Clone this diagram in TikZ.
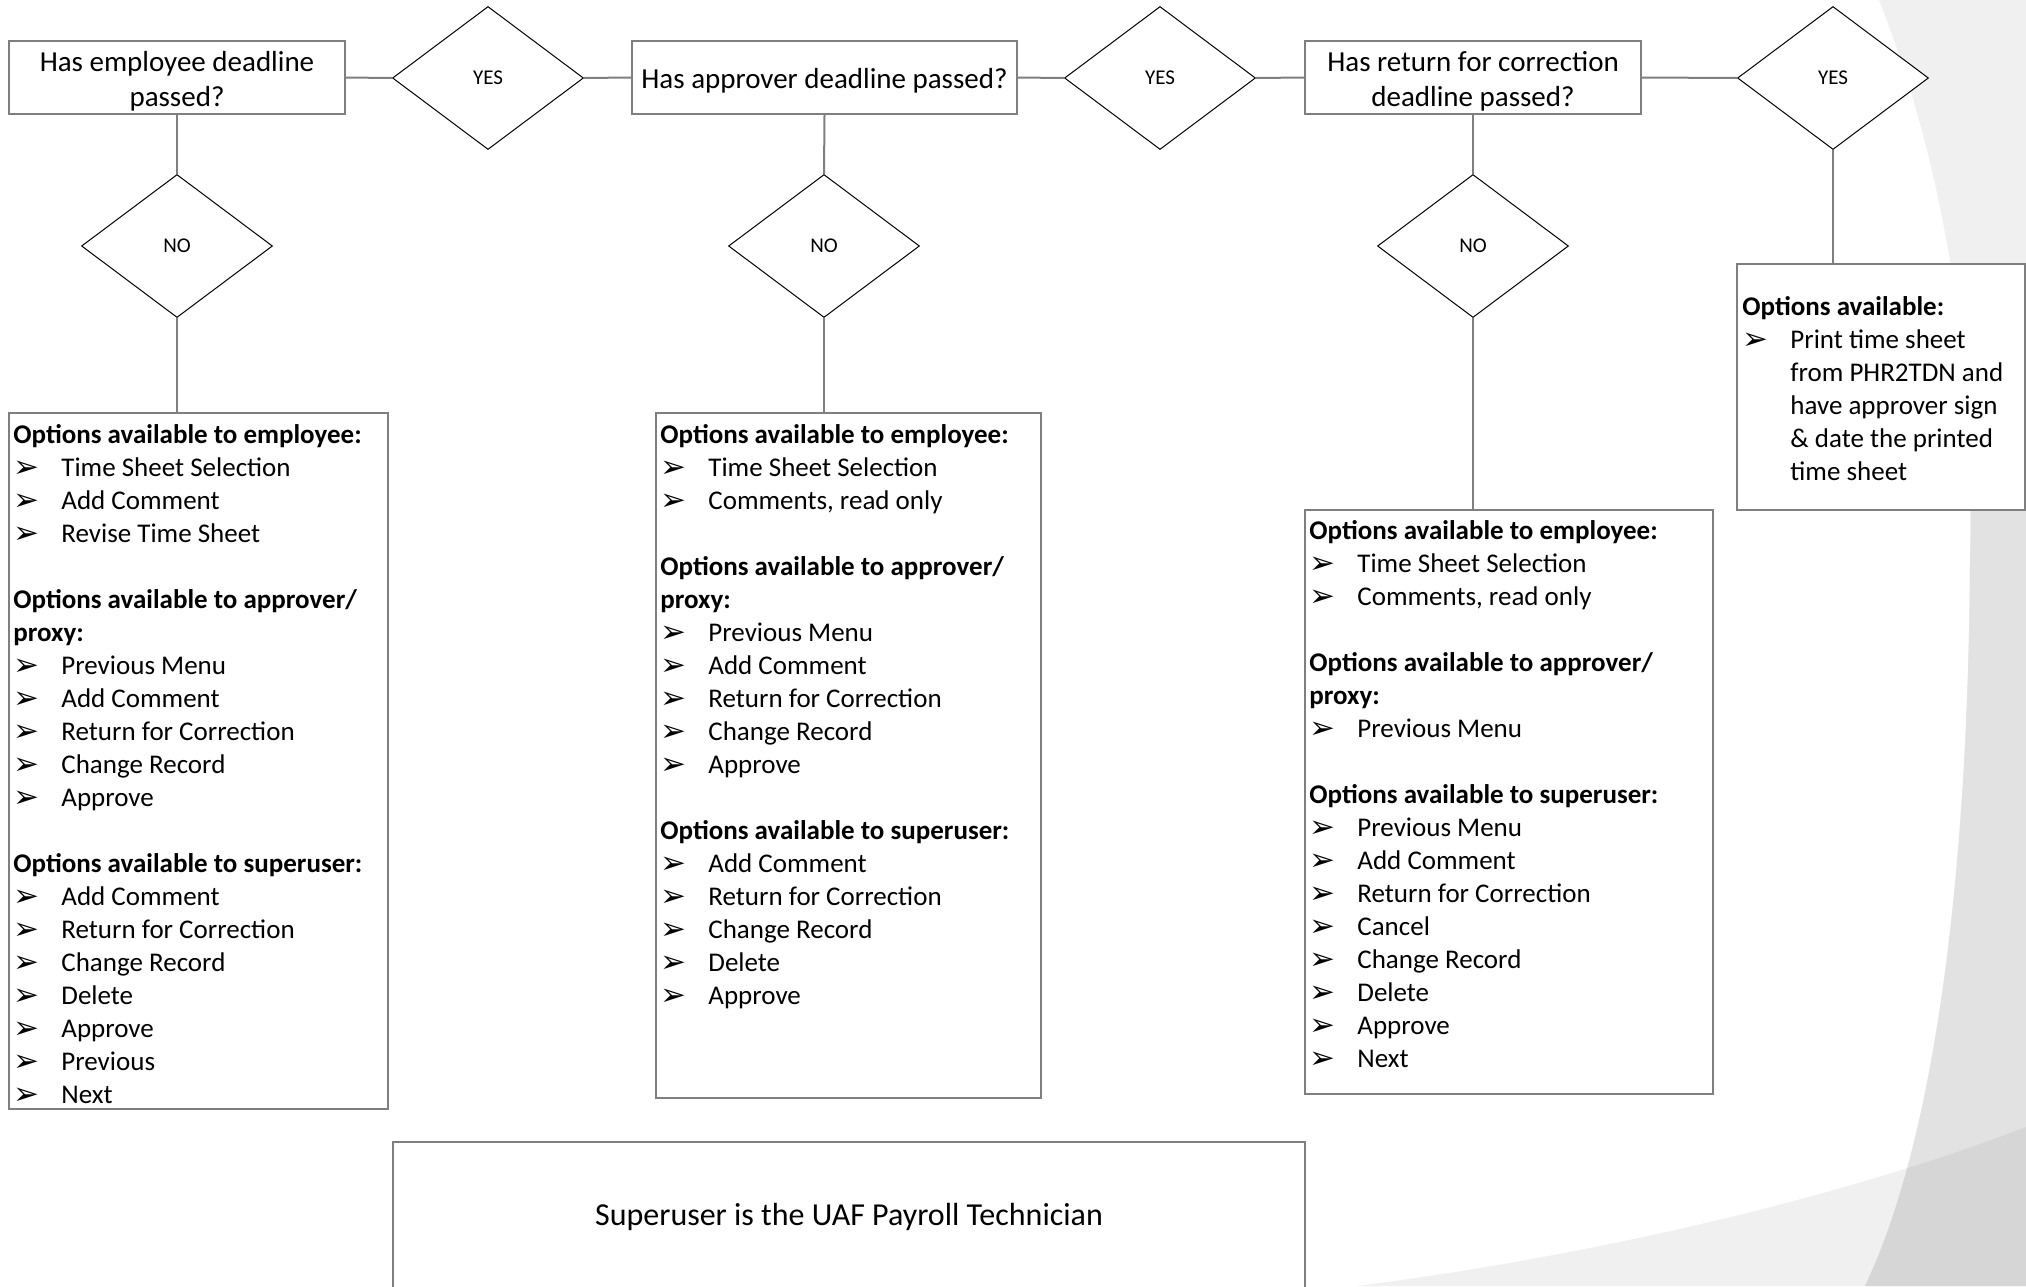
\documentclass[tikz,border=0pt]{standalone}
\usepackage{fontspec}
\setmainfont{Carlito}
\newfontfamily\dejavu{DejaVu Sans}
\usetikzlibrary{shapes.geometric,calc}

\definecolor{linegray}{HTML}{7F7F7F}
\definecolor{bglight}{HTML}{F0F0F0}
\definecolor{bgmid}{HTML}{E2E2E2}
\definecolor{bgdark}{HTML}{D6D6D6}

% arrowhead bullet followed by the item text
\newcommand{\arrowbullet}{\makebox[48pt][l]{\raisebox{-1pt}{\dejavu\fontsize{31}{31}\selectfont ➢}}}
\newcommand{\opt}[1]{\arrowbullet#1}
\newcommand{\firstline}{\rule{0pt}{24pt}}
% centred question text, nudged slightly below the box centre
\newcommand{\qtext}[1]{\raisebox{-4pt}[\height][\depth]{\begin{tabular}{@{}c@{}}#1\end{tabular}}}

\tikzset{
  question/.style={rectangle, draw=linegray, line width=1.6pt, fill=white,
    align=center, inner sep=0pt, font=\fontsize{29}{35}\selectfont},
  decision/.style={diamond, draw=black, line width=1pt, fill=white,
    minimum width=191pt, minimum height=143pt, inner sep=0pt,
    font=\fontsize{21}{25}\selectfont},
  optbox/.style={rectangle, draw=linegray, line width=1.6pt, fill=white, inner sep=0pt},
  opttext/.style={anchor=north west, align=left, inner sep=0pt,
    font=\fontsize{27}{33}\selectfont},
  link/.style={draw=linegray, line width=2pt},
}

\begin{document}
\begin{tikzpicture}[x=1pt, y=-1pt]
\useasboundingbox (0,0) rectangle (2026,1286);
\fill[white] (0,0) rectangle (2026,1286);

% ---- background sweeps on the right ----
\fill[bglight] (1879,0) .. controls (1950,180) and (1975,380) .. (1970,560)
  .. controls (1968,900) and (1930,1150) .. (1865,1286) -- (2026,1286) -- (2026,0) -- cycle;
\fill[bglight] (1357,1286) .. controls (1600,1255) and (1850,1195) .. (2026,1127)
  -- (2026,1286) -- cycle;
\begin{scope}
  \clip (1879,0) .. controls (1950,180) and (1975,380) .. (1970,560)
    .. controls (1968,900) and (1930,1150) .. (1865,1286) -- (2026,1286) -- (2026,0) -- cycle;
  \fill[bgmid] (1800,480) rectangle (2026,1286);
  \fill[bgdark] (1357,1286) .. controls (1600,1255) and (1850,1195) .. (2026,1127)
    -- (2026,1286) -- cycle;
\end{scope}

% ---- questions and decisions ----
\node[question, minimum width=336pt, minimum height=73pt] (q1) at (177,77.5)
  {\qtext{Has employee deadline\\passed?}};
\node[decision] (y1) at (488,78) {YES};
\node[question, minimum width=385pt, minimum height=73pt] (q2) at (824.5,77.5)
  {\qtext{Has approver deadline passed?}};
\node[decision] (y2) at (1160,78) {YES};
\node[question, minimum width=336pt, minimum height=73pt] (q3) at (1473,77.5)
  {\qtext{Has return for correction\\deadline passed?}};
\node[decision] (y3) at (1833,78) {YES};

\node[decision] (n1) at (177,246) {NO};
\node[decision] (n2) at (824,246) {NO};
\node[decision] (n3) at (1473,246) {NO};

% ---- option boxes ----
\node[optbox, minimum width=379pt, minimum height=696pt] (o1) at (198.5,761) {};
\node[optbox, minimum width=385pt, minimum height=685pt] (o2) at (848.5,755.5) {};
\node[optbox, minimum width=408pt, minimum height=584pt] (o3) at (1509,802) {};
\node[optbox, minimum width=288pt, minimum height=246pt] (o4) at (1881,387) {};
\node[optbox, minimum width=912pt, minimum height=150pt,
      font=\fontsize{32}{38}\selectfont] (note) at (849,1217)
  {Superuser is the UAF Payroll Technician};

\node[opttext, xshift=5pt, yshift=-7.5pt] (t1) at (o1.north west) {%
\firstline\textbf{Options available to employee:}\\
\opt{Time Sheet Selection}\\
\opt{Add Comment}\\
\opt{Revise Time Sheet}\\[33pt]
\textbf{Options available to approver/}\\
\textbf{proxy:}\\
\opt{Previous Menu}\\
\opt{Add Comment}\\
\opt{Return for Correction}\\
\opt{Change Record}\\
\opt{Approve}\\[33pt]
\textbf{Options available to superuser:}\\
\opt{Add Comment}\\
\opt{Return for Correction}\\
\opt{Change Record}\\
\opt{Delete}\\
\opt{Approve}\\
\opt{Previous}\\
\opt{Next}};

\node[opttext, xshift=5pt, yshift=-7.5pt] (t2) at (o2.north west) {%
\firstline\textbf{Options available to employee:}\\
\opt{Time Sheet Selection}\\
\opt{Comments, read only}\\[33pt]
\textbf{Options available to approver/}\\
\textbf{proxy:}\\
\opt{Previous Menu}\\
\opt{Add Comment}\\
\opt{Return for Correction}\\
\opt{Change Record}\\
\opt{Approve}\\[33pt]
\textbf{Options available to superuser:}\\
\opt{Add Comment}\\
\opt{Return for Correction}\\
\opt{Change Record}\\
\opt{Delete}\\
\opt{Approve}};

\node[opttext, xshift=5pt, yshift=-6pt] (t3) at (o3.north west) {%
\firstline\textbf{Options available to employee:}\\
\opt{Time Sheet Selection}\\
\opt{Comments, read only}\\[33pt]
\textbf{Options available to approver/}\\
\textbf{proxy:}\\
\opt{Previous Menu}\\[33pt]
\textbf{Options available to superuser:}\\
\opt{Previous Menu}\\
\opt{Add Comment}\\
\opt{Return for Correction}\\
\opt{Cancel}\\
\opt{Change Record}\\
\opt{Delete}\\
\opt{Approve}\\
\opt{Next}};

\node[opttext, xshift=6pt, yshift=-28.5pt] (t4) at (o4.north west) {%
\firstline\textbf{Options available:}\\
\opt{Print time sheet}\\
\hspace*{48pt}from PHR2TDN and\\
\hspace*{48pt}have approver sign\\
\hspace*{48pt}\& date the printed\\
\hspace*{48pt}time sheet};

% ---- connectors ----
\draw[link] (q1.east) -- (y1.west);
\draw[link] (y1.east) -- (q2.west);
\draw[link] (q2.east) -- (y2.west);
\draw[link] (y2.east) -- (q3.west);
\draw[link] (q3.east) -- (y3.west);
\draw[link] (q1.south) -- (n1.north);
\draw[link] (q2.south) -- (n2.north);
\draw[link] (q3.south) -- (n3.north);
\draw[link] (n1.south) -- (n1.south |- o1.north);
\draw[link] (n2.south) -- (n2.south |- o2.north);
\draw[link] (n3.south) -- (n3.south |- o3.north);
\draw[link] (y3.south) -- (y3.south |- o4.north);
\end{tikzpicture}
\end{document}
